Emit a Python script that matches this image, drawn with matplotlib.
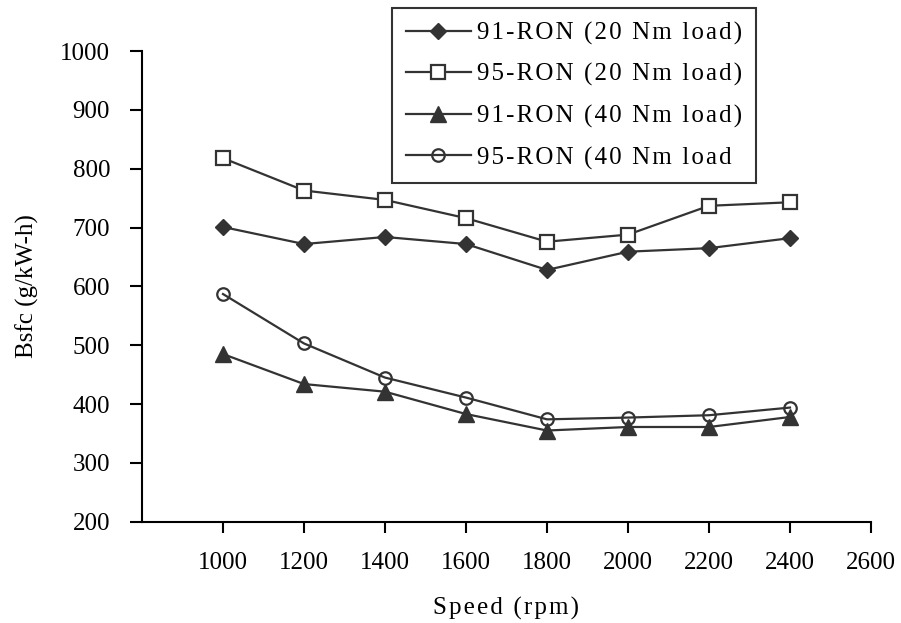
import matplotlib
matplotlib.use("Agg")
import matplotlib.pyplot as plt

speed = [1000, 1200, 1400, 1600, 1800, 2000, 2200, 2400]
ron91_20 = [701, 672, 684, 672, 628, 659, 665, 682]
ron95_20 = [818, 763, 747, 716, 676, 688, 737, 743]
ron91_40 = [485, 434, 421, 383, 355, 361, 361, 378]
ron95_40 = [587, 503, 445, 411, 374, 377, 381, 394]
labels = ["91-RON (20 Nm load)", "95-RON (20 Nm load)",
          "91-RON (40 Nm load)", "95-RON (40 Nm load"]
xticks = [1000, 1200, 1400, 1600, 1800, 2000, 2200, 2400, 2600]
yticks = [200, 300, 400, 500, 600, 700, 800, 900, 1000]

plt.rcParams['font.family'] = ['Liberation Serif', 'DejaVu Serif']


def spaced(s):
    return '\u200a'.join(s)


fig = plt.figure(figsize=(9.01, 6.23), dpi=100)
ax = fig.add_axes([0.1576, 0.1626, 0.8091, 0.7554])

c = '#333333'
lw = 1.6
ax.plot(speed, ron91_20, color=c, lw=lw, marker='D', markersize=8,
        mfc=c, mec=c, label=spaced(labels[0]))
ax.plot(speed, ron95_20, color=c, lw=lw, marker='s', markersize=10,
        mfc='white', mec=c, mew=1.6, label=spaced(labels[1]))
ax.plot(speed, ron91_40, color=c, lw=lw, marker='^', markersize=11,
        mfc=c, mec=c, label=spaced(labels[2]))
ax.plot(speed, ron95_40, color=c, lw=lw, marker='o', markersize=9,
        mfc='none', mec=c, mew=1.6, label=spaced(labels[3]))

ax.set_xlim(800, 2600)
ax.set_ylim(200, 1000)
ax.set_xticks(xticks)
ax.set_yticks(yticks)
ax.spines['top'].set_visible(False)
ax.spines['right'].set_visible(False)
for s in ['left', 'bottom']:
    ax.spines[s].set_linewidth(1.5)
    ax.spines[s].set_color('black')
ax.tick_params(axis='x', direction='out', length=8, width=1.5, pad=14, labelsize=18)
ax.tick_params(axis='y', direction='out', length=9, width=1.5, pad=14, labelsize=18)

ax.set_xlabel(spaced("Speed (rpm)"), fontsize=18, labelpad=16)
ax.set_ylabel("Bsfc (g/kW-h)", fontsize=18, labelpad=15)

leg = fig.legend(loc='upper left', bbox_to_anchor=(392/901, 1 - 8/623),
                 fontsize=18, frameon=True, fancybox=False, edgecolor='black',
                 handlelength=2.6, handletextpad=0.25, labelspacing=0.74,
                 borderpad=0.55, borderaxespad=0)
leg.get_frame().set_linewidth(1.5)

fig.savefig("out.png", dpi=100)
